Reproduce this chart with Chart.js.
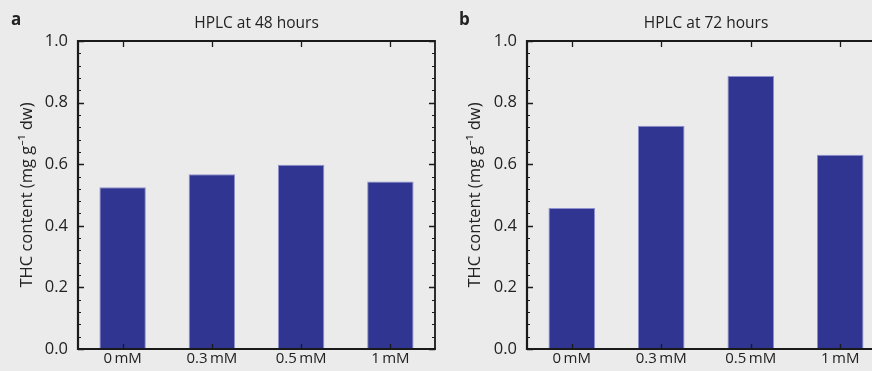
<!DOCTYPE html>
<html>
<head>
<meta charset="utf-8">
<script src="https://cdn.jsdelivr.net/npm/chart.js@4/dist/chart.umd.min.js"></script>
<style>
  html, body { margin: 0; padding: 0; background: #ebebeb; overflow: hidden; }
  body { width: 872px; height: 371px; position: relative; }
  .panel { position: absolute; top: 0; height: 371px; }
  #pa { left: 0; width: 440px; }
  #pb { left: 436px; width: 452px; }
</style>
</head>
<body>
<div class="panel" id="pa"><canvas id="chartA" width="440" height="371"></canvas></div>
<div class="panel" id="pb"><canvas id="chartB" width="452" height="371"></canvas></div>
<script>
// data
var categories = ['0\u2009mM', '0.3\u2009mM', '0.5\u2009mM', '1\u2009mM'];
var thc48 = [0.525, 0.567, 0.598, 0.544];
var thc72 = [0.458, 0.725, 0.886, 0.631];
var titles = ['HPLC at 48 hours', 'HPLC at 72 hours'];
var letters = ['a', 'b'];
var yTitle = 'THC content (mg g\u207B\u00B9 dw)';

var FONT = "'Open Sans', 'Noto Sans', sans-serif";
var BAR = '#2f3590';

// frame, inward ticks, panel letter and title
var framePlugin = {
    id: 'frame',
    afterDatasetsDraw: function(chart, args, opts) {
        var ctx = chart.ctx, a = chart.chartArea;
        var y = chart.scales.y, x = chart.scales.x;
        ctx.save();
        ctx.strokeStyle = '#1a1a1a';
        // minor ticks
        ctx.lineWidth = 1;
        for (var v = 0; v <= 1.0001; v += 0.04) {
            var py = Math.round(y.getPixelForValue(v)) + 0.5;
            ctx.beginPath();
            ctx.moveTo(a.left, py); ctx.lineTo(a.left + 3, py);
            ctx.moveTo(a.right, py); ctx.lineTo(a.right - 3, py);
            ctx.stroke();
        }
        // major ticks
        ctx.lineWidth = 1.3;
        y.ticks.forEach(function(t) {
            var py = Math.round(y.getPixelForValue(t.value)) + 0.5;
            ctx.beginPath();
            ctx.moveTo(a.left, py); ctx.lineTo(a.left + 6, py);
            ctx.moveTo(a.right, py); ctx.lineTo(a.right - 6, py);
            ctx.stroke();
        });
        x.ticks.forEach(function(t, i) {
            var px = Math.round(x.getPixelForTick(i)) + 0.5;
            ctx.beginPath();
            ctx.moveTo(px, a.top); ctx.lineTo(px, a.top + 6);
            ctx.moveTo(px, a.bottom); ctx.lineTo(px, a.bottom - 5);
            ctx.stroke();
        });
        // frame
        ctx.lineWidth = 1.8;
        ctx.beginPath();
        ctx.moveTo(a.left, a.top); ctx.lineTo(a.right, a.top); ctx.lineTo(a.right, a.bottom);
        ctx.stroke();
        ctx.lineWidth = 2.2;
        ctx.beginPath();
        ctx.moveTo(a.left, a.top - 0.9); ctx.lineTo(a.left, a.bottom); ctx.lineTo(a.right + 0.9, a.bottom);
        ctx.stroke();
        // title + letter
        ctx.fillStyle = '#222';
        ctx.textBaseline = 'alphabetic';
        ctx.textAlign = 'center';
        ctx.font = '15.5px ' + FONT;
        ctx.fillText(opts.title, (a.left + a.right) / 2, 28);
        ctx.textAlign = 'left';
        ctx.font = 'bold 17px ' + FONT;
        ctx.fillText(opts.letter, opts.letterX, 25);
        ctx.restore();
    }
};

function makeChart(id, values, idx, axisW, titlePad, rightPad, letterX) {
    return new Chart(document.getElementById(id), {
        type: 'bar',
        data: {
            labels: categories,
            datasets: [{
                data: values,
                backgroundColor: BAR,
                borderColor: '#8d90cf',
                borderWidth: 1,
                barPercentage: 0.52,
                categoryPercentage: 1
            }]
        },
        options: {
            responsive: false,
            animation: false,
            layout: { padding: { top: 41, right: rightPad, left: 0, bottom: 0 } },
            plugins: {
                legend: { display: false },
                tooltip: { enabled: false },
                frame: { title: titles[idx], letter: letters[idx], letterX: letterX }
            },
            scales: {
                x: {
                    grid: { display: false, drawTicks: false },
                    border: { display: false },
                    ticks: { color: '#222', font: { family: FONT, size: 15 }, padding: 1 },
                    afterFit: function(s) { s.height = 22; }
                },
                y: {
                    min: 0, max: 1,
                    grid: { display: false, drawTicks: false },
                    border: { display: false },
                    ticks: {
                        stepSize: 0.2,
                        color: '#222',
                        padding: 10,
                        font: { family: FONT, size: 16.5 },
                        callback: function(v) { return v.toFixed(1); }
                    },
                    title: {
                        display: true,
                        text: yTitle,
                        color: '#222',
                        font: { family: FONT, size: 16.5 },
                        padding: { top: titlePad, bottom: 0 }
                    },
                    afterFit: function(s) { s.width = axisW; }
                }
            }
        },
        plugins: [framePlugin]
    });
}

makeChart('chartA', thc48, 0, 78, 17, 5, 11);
makeChart('chartB', thc72, 1, 91, 29, 3, 23);
</script>
</body>
</html>
